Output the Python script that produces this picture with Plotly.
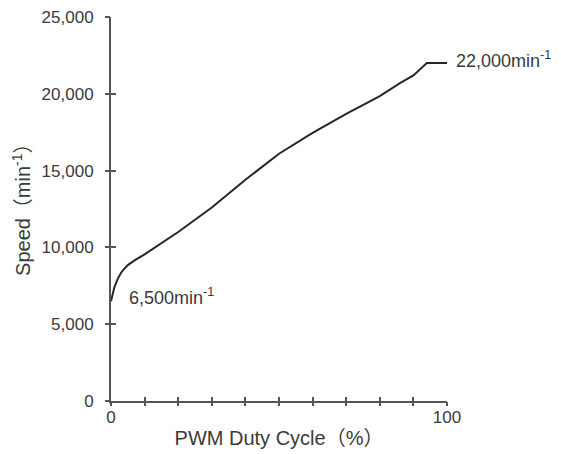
import plotly.graph_objects as go

# ---- data ----
duty = [0, 0.5, 1, 2, 3, 4, 5, 7, 10, 20, 30, 40, 50, 60, 70, 80, 86, 90, 94, 100]
speed = [6500, 7000, 7400, 7950, 8350, 8620, 8850, 9150, 9550, 11000, 12600,
         14400, 16100, 17450, 18700, 19850, 20700, 21200, 22000, 22000]

x_tickvals = [0, 10, 20, 30, 40, 50, 60, 70, 80, 90, 100]
x_ticktext = ["0", " ", " ", " ", " ", " ", " ", " ", " ", " ", "100"]
y_tickvals = [0, 5000, 10000, 15000, 20000, 25000]
y_ticktext = ["0", "5,000", "10,000", "15,000", "20,000", "25,000"]

label_min = "6,500min<sup>-1</sup>"
label_max = "22,000min<sup>-1</sup>"
x_title = "PWM Duty Cycle（%）"
y_title = "Speed（min<sup>-1</sup>）"

FONT = "Liberation Sans, Arial, Noto Sans CJK JP, sans-serif"
TXT = "#3a3a3a"
AXC = "#555555"

fig = go.Figure()
fig.add_trace(go.Scatter(x=duty, y=speed, mode="lines",
                         line=dict(color="#262626", width=2),
                         showlegend=False, hoverinfo="skip"))
# trace hosting the overlay axes (outer half of crossing ticks)
fig.add_trace(go.Scatter(x=[duty[0]], y=[speed[0]], xaxis="x2", yaxis="y2",
                         mode="markers", marker=dict(opacity=0),
                         showlegend=False, hoverinfo="skip"))

fig.add_annotation(x=duty[0], y=speed[0], text=label_min, showarrow=False,
                   xanchor="left", yanchor="middle", xshift=16, yshift=5,
                   font=dict(family=FONT, size=18, color=TXT))
fig.add_annotation(x=duty[-1], y=speed[-1], text=label_max, showarrow=False,
                   xanchor="left", yanchor="middle", xshift=7, yshift=4,
                   font=dict(family=FONT, size=18, color=TXT))
# y-axis title placed as a rotated annotation
fig.add_annotation(xref="paper", yref="paper", x=-0.268, y=0.513,
                   text=y_title, textangle=-90, showarrow=False,
                   xanchor="center", yanchor="middle",
                   font=dict(family=FONT, size=20, color=TXT))

common = dict(showgrid=False, zeroline=False)

fig.update_layout(
    # page body adds an 8px margin, so the figure is 8px smaller and shifted
    width=553, height=446,
    margin=dict(l=103, r=114, t=9, b=53, autoexpand=False),
    paper_bgcolor="white", plot_bgcolor="white",
    font=dict(family=FONT, size=17, color=TXT),
    xaxis=dict(range=[0, 100], tickmode="array", tickvals=x_tickvals,
               ticktext=x_ticktext, ticks="inside", ticklen=4, tickwidth=2,
               tickcolor=AXC, showline=True, linecolor=AXC, linewidth=2,
               ticklabeloverflow="allow",
               tickfont=dict(family=FONT, size=17, color=TXT),
               title=dict(text=x_title, standoff=5,
                          font=dict(family=FONT, size=20, color=TXT)),
               **common),
    yaxis=dict(range=[0, 25000], tickmode="array", tickvals=y_tickvals,
               ticktext=y_ticktext, ticks="inside", ticklen=5, tickwidth=2,
               tickcolor=AXC, showline=True, linecolor=AXC, linewidth=2,
               ticklabelstandoff=12, ticklabeloverflow="allow",
               tickfont=dict(family=FONT, size=17, color=TXT),
               **common),
    xaxis2=dict(range=[0, 100], overlaying="x", anchor="y", side="bottom",
                tickmode="array", tickvals=x_tickvals, ticks="outside",
                ticklen=4, tickwidth=2, tickcolor=AXC,
                showticklabels=False, showline=False, **common),
    yaxis2=dict(range=[0, 25000], overlaying="y", anchor="x", side="left",
                tickmode="array", tickvals=y_tickvals, ticks="outside",
                ticklen=5, tickwidth=2, tickcolor=AXC,
                showticklabels=False, showline=False, **common),
)

fig.write_html("out.html")
